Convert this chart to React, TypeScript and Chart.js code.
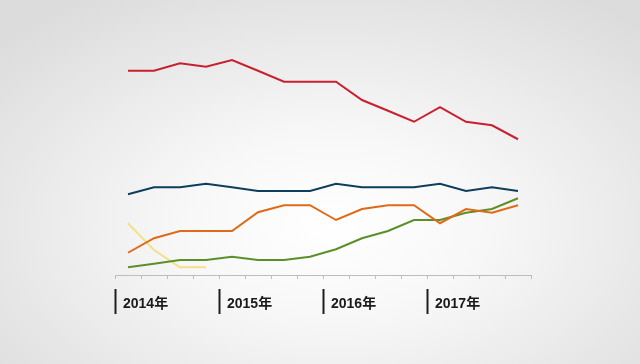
import React, { useEffect, useRef } from "react";
import { Chart, registerables } from "chart.js";

Chart.register(...registerables);

const categories = [
  "2014Q1", "2014Q2", "2014Q3", "2014Q4",
  "2015Q1", "2015Q2", "2015Q3", "2015Q4",
  "2016Q1", "2016Q2", "2016Q3", "2016Q4",
  "2017Q1", "2017Q2", "2017Q3", "2017Q4",
];
const yearLabels = ["2014年", "2015年", "2016年", "2017年"];

const redSeries = [81.7, 81.7, 84.7, 83.3, 86, 81.7, 77.3, 77.3, 77.3, 70, 65.7, 61.3, 67.1, 61.3, 59.9, 54.3];
const blueSeries = [32.3, 35.1, 35.1, 36.5, 35.1, 33.6, 33.6, 33.6, 36.5, 35.1, 35.1, 35.1, 36.5, 33.6, 35.1, 33.6];
const orangeSeries = [8.9, 14.7, 17.6, 17.6, 17.6, 25.1, 27.9, 27.9, 22, 26.4, 27.9, 27.9, 20.7, 26.4, 24.9, 27.9];
const greenSeries = [3.1, 4.5, 6, 6, 7.3, 6, 6, 7.3, 10.3, 14.7, 17.6, 22, 22, 24.9, 26.4, 30.7];
const yellowSeries = [20.7, 10, 3.1, 3.1, null, null, null, null, null, null, null, null, null, null, null, null];

const yearLabelPlugin = {
  id: "yearLabels",
  afterDraw(chart: any) {
    const ctx = chart.ctx;
    const xs = chart.scales.x;
    const half = (xs.getPixelForValue(1) - xs.getPixelForValue(0)) / 2;
    ctx.save();
    yearLabels.forEach((label, k) => {
      const bx = Math.round(xs.getPixelForValue(k * 4) - half) + 0.5;
      ctx.strokeStyle = "#1f1f1f";
      ctx.lineWidth = 2;
      ctx.beginPath();
      ctx.moveTo(bx, 289);
      ctx.lineTo(bx, 314);
      ctx.stroke();
      ctx.fillStyle = "#1a1a1a";
      ctx.font = "bold 14px 'Liberation Sans', 'Noto Sans CJK SC', sans-serif";
      ctx.textAlign = "left";
      ctx.textBaseline = "middle";
      ctx.fillText(label, bx + 7.5, 304);
    });
    ctx.restore();
  },
};

export default function App() {
  const ref = useRef<HTMLCanvasElement>(null);
  useEffect(() => {
    if (!ref.current) return;
    const mk = (data: (number | null)[], color: string) => ({
      data,
      borderColor: color,
      backgroundColor: color,
      borderWidth: 2,
      pointRadius: 0,
      tension: 0,
      fill: false,
      spanGaps: false,
    });
    const chart = new Chart(ref.current, {
      type: "line",
      data: {
        labels: categories,
        datasets: [
          mk(redSeries, "#c9202f"),
          mk(blueSeries, "#0e3e5e"),
          mk(orangeSeries, "#df6a17"),
          mk(greenSeries, "#5b8f2a"),
          mk(yellowSeries, "#f3e08a"),
        ],
      },
      options: {
        responsive: false,
        animation: false,
        maintainAspectRatio: false,
        layout: { padding: { left: 115, right: 109, top: 40, bottom: 85 } },
        plugins: { legend: { display: false }, tooltip: { enabled: false } },
        scales: {
          x: {
            type: "category",
            offset: true,
            grid: {
              offset: true,
              drawOnChartArea: false,
              drawTicks: true,
              tickLength: 4,
              color: "#bdbdbd",
            },
            border: { display: true, color: "#bdbdbd", width: 1 },
            ticks: { display: false },
          },
          y: {
            display: false,
            min: 0,
            max: 94,
          },
        },
      },
      plugins: [yearLabelPlugin],
    });
    return () => chart.destroy();
  }, []);
  return (
    <div
      style={{
        position: "absolute",
        left: 0,
        top: 0,
        width: 640,
        height: 364,
        background: "radial-gradient(ellipse 70% 75% at 52% 62%, #ffffff 0%, #f7f7f7 35%, #dcdcdc 100%)",
      }}
    >
      <canvas ref={ref} width={640} height={364} style={{ display: "block" }} />
    </div>
  );
}
